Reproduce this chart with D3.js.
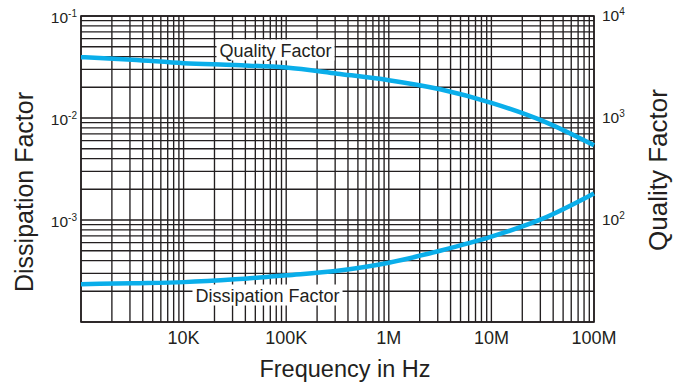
<!DOCTYPE html>
<html>
<head>
<meta charset="utf-8">
<script src="https://cdn.jsdelivr.net/npm/d3@7"></script>
<style>
  html, body { margin: 0; padding: 0; background: #fff; }
  svg { display: block; }
  text { font-family: "Liberation Sans", Arial, Helvetica, sans-serif; fill: #231f20; }
</style>
</head>
<body>
<svg id="chart" width="689" height="386"></svg>
<script>
// Frequency sweep (Hz) and the two measured curves
const frequency = [1e3, 3162, 1e4, 31623, 1e5, 316228, 1e6, 3162278, 1e7, 31622777, 1e8];
const qualityFactor = [3950, 3730, 3450, 3300, 3120, 2720, 2350, 1915, 1410, 937, 540];
const dissipationFactor = [2.35e-4, 2.40e-4, 2.46e-4, 2.62e-4, 2.87e-4, 3.18e-4, 3.81e-4, 5.0e-4, 6.87e-4, 1.03e-3, 1.82e-3];

// Axis ticks
const xTickValues = [1e4, 1e5, 1e6, 1e7, 1e8];
const xTickLabels = ["10K", "100K", "1M", "10M", "100M"];
const leftTickValues = [1e-1, 1e-2, 1e-3];
const leftTickExponents = ["-1", "-2", "-3"];
const rightTickValues = [1e4, 1e3, 1e2];
const rightTickExponents = ["4", "3", "2"];

const W = 689, H = 386;
const margin = { top: 16, right: 95, bottom: 64, left: 81 };
const x0 = margin.left, x1 = W - margin.right;
const y0 = margin.top, y1 = H - margin.bottom;

const svg = d3.select("#chart");

const x = d3.scaleLog().domain([1e3, 1e8]).range([x0, x1]);
const yD = d3.scaleLog().domain([1e-4, 1e-1]).range([y1, y0]);
const yQ = d3.scaleLog().domain([1e1, 1e4]).range([y1, y0]);

const ink = "#231f20";
const curveColor = "#0aaeea";

// Log grid: 1..9 in every decade
function logGrid(lo, hi) {
  const out = [];
  for (let e = Math.round(Math.log10(lo)); e < Math.round(Math.log10(hi)); e++) {
    for (let k = 1; k <= 9; k++) out.push(k * Math.pow(10, e));
  }
  out.push(hi);
  return out;
}

const grid = svg.append("g").attr("stroke", ink).attr("stroke-width", 1.35);
grid.selectAll("line.v").data(logGrid(1e3, 1e8)).join("line")
  .attr("class", "v")
  .attr("x1", d => x(d)).attr("x2", d => x(d))
  .attr("y1", y0).attr("y2", y1);
grid.selectAll("line.h").data(logGrid(1e-4, 1e-1)).join("line")
  .attr("class", "h")
  .attr("x1", x0).attr("x2", x1)
  .attr("y1", d => yD(d)).attr("y2", d => yD(d));

// Frame
svg.append("rect")
  .attr("x", x0).attr("y", y0)
  .attr("width", x1 - x0).attr("height", y1 - y0)
  .attr("fill", "none").attr("stroke", ink).attr("stroke-width", 1.6);

// Curve labels with white backing
const curveLabels = [
  { text: "Quality Factor", cx: 275.5, baseline: 56.5 },
  { text: "Dissipation Factor", cx: 267.5, baseline: 301.5 }
];
const labelG = svg.append("g");
curveLabels.forEach(l => {
  const t = labelG.append("text")
    .attr("x", l.cx).attr("y", l.baseline)
    .attr("text-anchor", "middle")
    .style("font-size", "18px")
    .text(l.text);
  const b = t.node().getBBox();
  labelG.insert("rect", "text")
    .attr("x", b.x - 3).attr("y", b.y - 1)
    .attr("width", b.width + 6).attr("height", b.height + 1)
    .attr("fill", "#fff");
});

// Curves
const lineQ = d3.line()
  .x((d, i) => x(frequency[i]))
  .y(d => yQ(d))
  .curve(d3.curveMonotoneX);
const lineD = d3.line()
  .x((d, i) => x(frequency[i]))
  .y(d => yD(d))
  .curve(d3.curveMonotoneX);

svg.append("path").datum(qualityFactor).attr("d", lineQ)
  .attr("fill", "none").attr("stroke", curveColor).attr("stroke-width", 4.5)
  .attr("stroke-linecap", "butt");
svg.append("path").datum(dissipationFactor).attr("d", lineD)
  .attr("fill", "none").attr("stroke", curveColor).attr("stroke-width", 4.5)
  .attr("stroke-linecap", "butt");

// X tick labels
svg.append("g").selectAll("text").data(xTickValues).join("text")
  .attr("x", d => x(d)).attr("y", 343.5)
  .attr("text-anchor", "middle")
  .style("font-size", "18px")
  .text((d, i) => xTickLabels[i]);

// Power-of-ten tick labels
function powerLabel(g, xPos, yPos, exp, anchor) {
  const t = g.append("text")
    .attr("x", xPos).attr("y", yPos)
    .attr("text-anchor", anchor)
    .style("font-size", "15.5px");
  t.append("tspan").text("10");
  t.append("tspan").attr("dy", -6).style("font-size", "10px").text(exp);
}
const leftG = svg.append("g");
leftTickValues.forEach((v, i) => powerLabel(leftG, 77, yD(v) + 7, leftTickExponents[i], "end"));
const rightG = svg.append("g");
rightTickValues.forEach((v, i) => powerLabel(rightG, 602, yQ(v) + 5, rightTickExponents[i], "start"));

// Axis titles
svg.append("text")
  .attr("transform", "translate(33,192) rotate(-90)")
  .attr("text-anchor", "middle")
  .style("font-size", "25px")
  .text("Dissipation Factor");
svg.append("text")
  .attr("transform", "translate(667,170) rotate(-90)")
  .attr("text-anchor", "middle")
  .style("font-size", "26px")
  .text("Quality Factor");
svg.append("text")
  .attr("x", 345).attr("y", 377)
  .attr("text-anchor", "middle")
  .style("font-size", "23.5px")
  .text("Frequency in Hz");
</script>
</body>
</html>
